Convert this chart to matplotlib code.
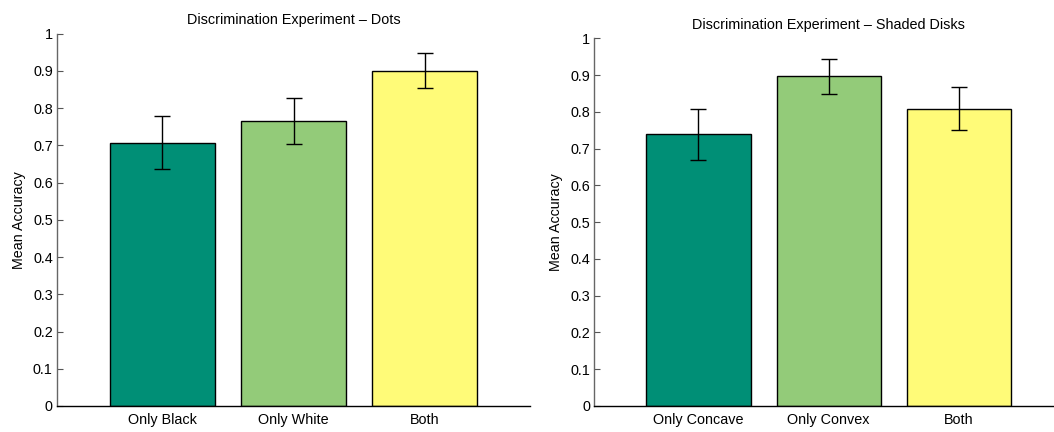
import matplotlib
matplotlib.use("Agg")
import matplotlib.pyplot as plt
import numpy as np

plt.rcParams["font.family"] = ["Liberation Sans", "DejaVu Sans"]

# mean accuracy and error half-widths for each experiment
dots_labels = ["Only Black", "Only White", "Both"]
dots_means = [0.707, 0.766, 0.900]
dots_err = [0.071, 0.062, 0.047]

disks_labels = ["Only Concave", "Only Convex", "Both"]
disks_means = [0.739, 0.897, 0.809]
disks_err = [0.069, 0.047, 0.058]

bar_colors = ["#008F76", "#93CB79", "#FFFB78"]
y_ticks = [0, 0.1, 0.2, 0.3, 0.4, 0.5, 0.6, 0.7, 0.8, 0.9, 1]
y_tick_labels = ["0", "0.1", "0.2", "0.3", "0.4", "0.5", "0.6", "0.7", "0.8", "0.9", "1"]


def draw_panel(ax, labels, means, errs, title):
    x = np.arange(1, len(labels) + 1)
    ax.bar(x, means, width=0.8, color=bar_colors, edgecolor="black", linewidth=1.0, zorder=2)
    ax.errorbar(x, means, yerr=errs, fmt="none", ecolor="black", elinewidth=1.0,
                capsize=5.5, capthick=1.0, zorder=3)
    ax.set_xlim(0.2, 3.8)
    ax.set_ylim(0, 1)
    ax.set_xticks(x)
    ax.set_xticklabels(labels, fontsize=10.4)
    ax.set_yticks(y_ticks)
    ax.set_yticklabels(y_tick_labels, fontsize=10.4)
    ax.tick_params(axis="y", direction="in", length=4, color="#555555", pad=3)
    ax.tick_params(axis="x", length=0, pad=5)
    ax.set_ylabel("Mean Accuracy", fontsize=10.3, labelpad=5)
    ax.set_title(title, fontsize=10.4, pad=7)
    for side in ["top", "right"]:
        ax.spines[side].set_visible(False)
    ax.spines["left"].set_color("#666666")
    ax.spines["bottom"].set_color("black")
    ax.spines["left"].set_linewidth(1.0)
    ax.spines["bottom"].set_linewidth(1.0)


fig = plt.figure(figsize=(10.54, 4.32), dpi=100)
ax1 = fig.add_axes([0.0541, 0.0602, 0.4488, 0.862])
ax2 = fig.add_axes([0.564, 0.0602, 0.4442, 0.8507])

draw_panel(ax1, dots_labels, dots_means, dots_err, "Discrimination Experiment \u2013 Dots")
draw_panel(ax2, disks_labels, disks_means, disks_err, "Discrimination Experiment \u2013 Shaded Disks")

fig.savefig("out.png", dpi=100)
